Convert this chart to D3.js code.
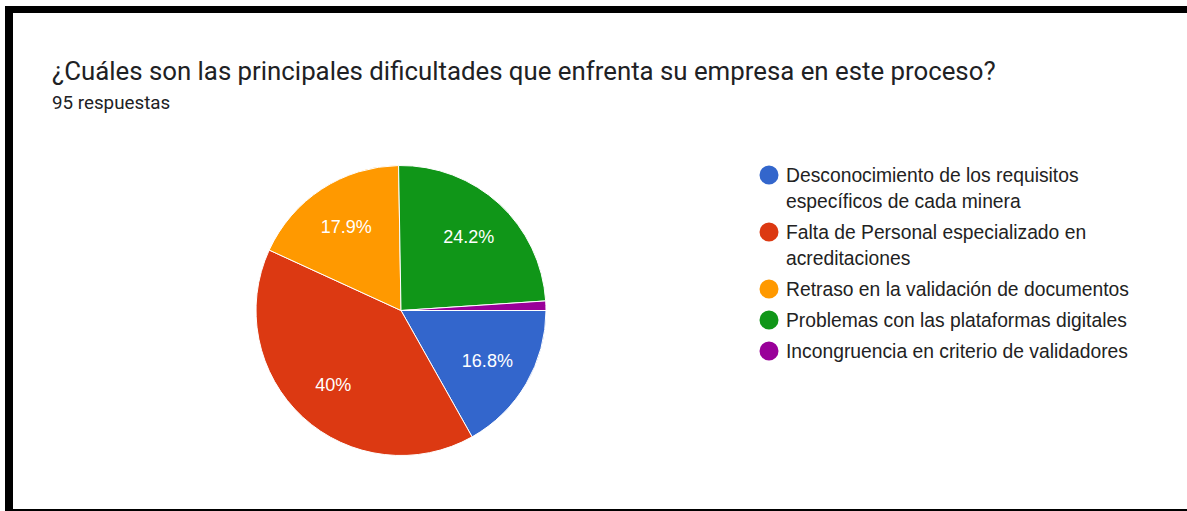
<!DOCTYPE html>
<html>
<head>
<meta charset="utf-8">
<script src="https://cdn.jsdelivr.net/npm/d3@7"></script>
<style>
  html, body { margin: 0; padding: 0; background: #fff; }
  svg { display: block; }
</style>
</head>
<body>
<div id="chart"></div>
<script>
// answers of the survey question
const categories = [
  ['Desconocimiento de los requisitos', 'específicos de cada minera'],
  ['Falta de Personal especializado en', 'acreditaciones'],
  ['Retraso en la validación de documentos'],
  ['Problemas con las plataformas digitales'],
  ['Incongruencia en criterio de validadores']
];
const counts = [16, 38, 17, 23, 1];
const colors = ['#3366cc', '#dc3912', '#ff9900', '#109618', '#990099'];
const totalAnswers = 95;

const width = 1187, height = 511;

const svg = d3.select('#chart').append('svg')
    .attr('width', width)
    .attr('height', height);

// screenshot frame
svg.append('rect').attr('x', 5).attr('y', 6).attr('width', width - 5).attr('height', 7).attr('fill', '#000');
svg.append('rect').attr('x', 5).attr('y', 6).attr('width', 8).attr('height', height - 6).attr('fill', '#000');
svg.append('rect').attr('x', 5).attr('y', 509).attr('width', width - 5).attr('height', 2).attr('fill', '#000');

// title + subtitle
svg.append('text')
    .attr('x', 52).attr('y', 80)
    .style('font-family', 'Roboto, sans-serif')
    .style('font-size', '25.8px')
    .style('fill', '#202124')
    .text('¿Cuáles son las principales dificultades que enfrenta su empresa en este proceso?');

svg.append('text')
    .attr('x', 52).attr('y', 109)
    .style('font-family', 'Roboto, sans-serif')
    .style('font-size', '18.8px')
    .style('fill', '#202124')
    .text(totalAnswers + ' respuestas');

// pie
const cx = 401, cy = 310.5, radius = 145;
const pie = d3.pie()
    .sort(null)
    .startAngle(Math.PI / 2)
    .endAngle(Math.PI / 2 + 2 * Math.PI);
const arcs = pie(counts);
const arc = d3.arc().innerRadius(0).outerRadius(radius);
const labelArc = d3.arc().innerRadius(radius * 0.69).outerRadius(radius * 0.69);

const g = svg.append('g').attr('transform', `translate(${cx},${cy})`);

g.selectAll('path')
    .data(arcs)
    .enter().append('path')
    .attr('d', arc)
    .attr('fill', (d, i) => colors[i])
    .attr('stroke', '#fff')
    .attr('stroke-width', 1);

const fmt = v => {
    const p = Math.round(v / totalAnswers * 1000) / 10;
    return p + '%';
};

g.selectAll('text.lbl')
    .data(arcs.filter(d => d.value / totalAnswers > 0.05))
    .enter().append('text')
    .attr('class', 'lbl')
    .attr('transform', d => `translate(${labelArc.centroid(d)})`)
    .attr('text-anchor', 'middle')
    .attr('dy', '0.36em')
    .style('font-family', 'Arial, "Liberation Sans", sans-serif')
    .style('font-size', '18px')
    .style('fill', '#fff')
    .text(d => fmt(d.value));

// legend
const legend = svg.append('g');
let ly = 175;
categories.forEach((lines, i) => {
    legend.append('circle')
        .attr('cx', 769).attr('cy', ly)
        .attr('r', 9.5)
        .attr('fill', colors[i]);
    lines.forEach((t, j) => {
        legend.append('text')
            .attr('x', 786).attr('y', ly + j * 26)
            .attr('dy', '0.36em')
            .style('font-family', 'Arial, "Liberation Sans", sans-serif')
            .style('font-size', '19.3px')
            .style('fill', '#222')
            .text(t);
    });
    ly += (lines.length - 1) * 26 + 31;
});
</script>
</body>
</html>
